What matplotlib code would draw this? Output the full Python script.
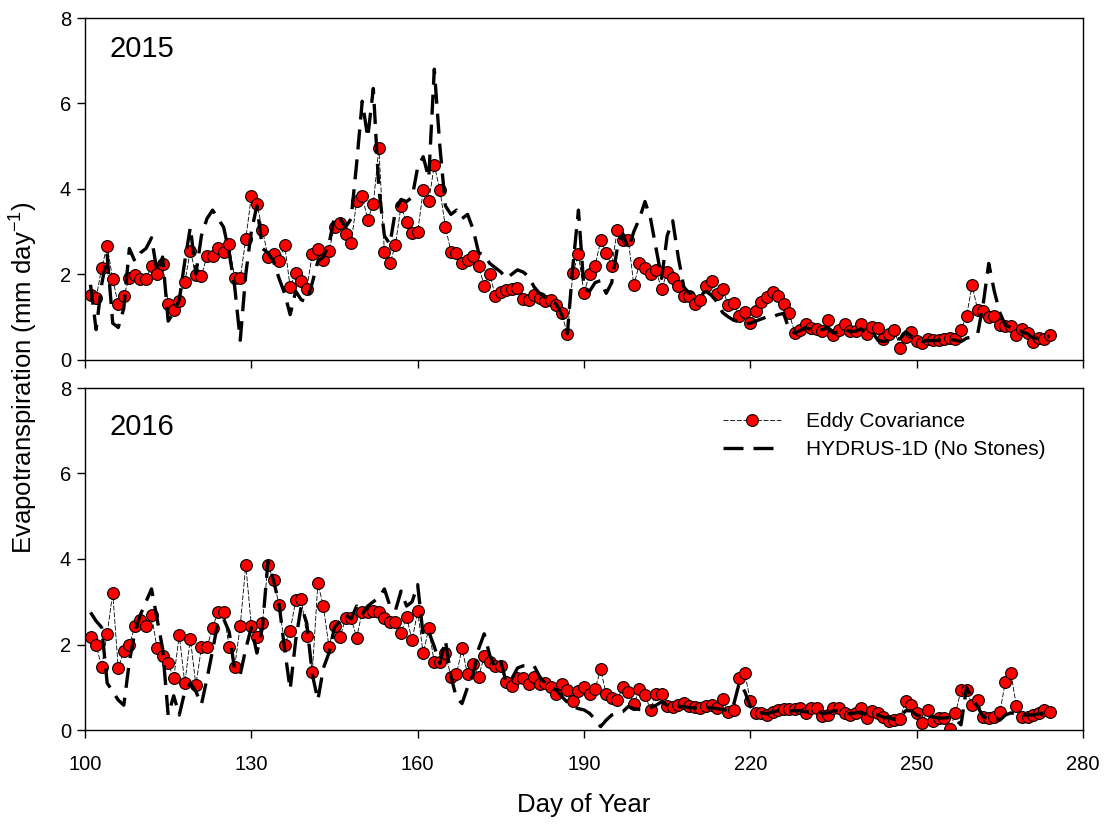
import numpy as np
import matplotlib
matplotlib.use("Agg")
import matplotlib.pyplot as plt

plt.rcParams['font.family'] = ['Liberation Sans', 'DejaVu Sans']
plt.rcParams['mathtext.fontset'] = 'custom'
plt.rcParams['mathtext.rm'] = 'Liberation Sans'
plt.rcParams['mathtext.it'] = 'Liberation Sans:italic'
plt.rcParams['mathtext.bf'] = 'Liberation Sans:bold'

first_day = 101
ec_2015 = [1.50, 1.43, 2.15, 2.66, 1.88, 1.29, 1.49, 1.92, 1.99, 1.88,
           1.88, 2.19, 2.00, 2.23, 1.31, 1.17, 1.38, 1.81, 2.55, 1.99,
           1.96, 2.43, 2.43, 2.62, 2.51, 2.70, 1.90, 1.91, 2.82, 3.83,
           3.65, 3.04, 2.41, 2.47, 2.31, 2.69, 1.70, 2.03, 1.84, 1.66,
           2.47, 2.60, 2.33, 2.55, 3.10, 3.20, 2.94, 2.72, 3.71, 3.83,
           3.27, 3.65, 4.95, 2.51, 2.25, 2.69, 3.60, 3.21, 2.97, 2.98,
           3.96, 3.71, 4.55, 3.98, 3.11, 2.53, 2.50, 2.27, 2.33, 2.42,
           2.19, 1.73, 2.00, 1.49, 1.58, 1.63, 1.66, 1.68, 1.41, 1.39,
           1.51, 1.43, 1.38, 1.39, 1.27, 1.08, 0.59, 2.03, 2.46, 1.55,
           2.00, 2.19, 2.79, 2.50, 2.19, 3.03, 2.81, 2.79, 1.74, 2.25,
           2.15, 2.01, 2.09, 1.64, 2.05, 1.92, 1.72, 1.49, 1.49, 1.31,
           1.39, 1.73, 1.84, 1.53, 1.65, 1.28, 1.33, 1.03, 1.11, 0.86,
           1.13, 1.35, 1.47, 1.57, 1.49, 1.29, 1.09, 0.63, 0.69, 0.83,
           0.73, 0.71, 0.67, 0.92, 0.57, 0.69, 0.82, 0.67, 0.67, 0.84,
           0.59, 0.77, 0.74, 0.47, 0.59, 0.69, 0.26, 0.53, 0.65, 0.44,
           0.38, 0.48, 0.46, 0.46, 0.47, 0.51, 0.47, 0.69, 1.02, 1.74,
           1.16, 1.13, 1.00, 1.03, 0.81, 0.78, 0.78, 0.57, 0.71, 0.61,
           0.42, 0.50, 0.47, 0.57]
hydrus_2015 = [1.75, 0.70, 1.75, 2.45, 0.85, 0.75, 1.20, 2.60, 2.30, 2.50,
               2.60, 2.85, 2.05, 2.40, 0.90, 1.10, 1.40, 2.30, 3.10, 2.00,
               2.90, 3.30, 3.50, 3.30, 3.10, 2.50, 1.70, 0.45, 2.00, 3.00,
               3.60, 2.60, 2.50, 2.30, 1.90, 1.55, 1.05, 1.60, 1.40, 1.35,
               1.80, 2.30, 2.40, 2.70, 3.35, 3.30, 3.10, 3.30, 4.60, 6.05,
               5.20, 6.35, 4.00, 2.90, 2.70, 3.50, 3.75, 3.70, 3.80, 4.50,
               4.75, 4.25, 6.80, 5.00, 3.60, 3.40, 3.50, 3.30, 3.40, 3.05,
               2.50, 2.45, 2.25, 2.15, 2.05, 1.90, 2.00, 2.10, 2.05, 1.95,
               1.70, 1.55, 1.45, 1.40, 1.30, 1.05, 0.60, 2.20, 3.50, 1.65,
               1.60, 1.80, 1.85, 1.55, 1.80, 2.60, 2.95, 2.60, 3.00, 3.30,
               3.70, 3.30, 2.60, 1.90, 2.90, 3.25, 2.40, 1.70, 1.55, 1.58,
               1.50, 1.60, 1.50, 1.35, 1.10, 1.00, 0.92, 0.88, 0.82, 0.85,
               0.90, 0.95, 1.00, 1.00, 1.05, 1.08, 0.70, 0.62, 0.68, 0.75,
               0.70, 0.68, 0.70, 0.75, 0.62, 0.65, 0.72, 0.65, 0.66, 0.72,
               0.60, 0.65, 0.45, 0.42, 0.45, 0.50, 0.48, 0.65, 0.55, 0.45,
               0.42, 0.45, 0.44, 0.45, 0.46, 0.48, 0.45, 0.42, 0.50, 0.53,
               0.60, 1.30, 2.25, 1.60, 1.10, 0.80, 0.75, 0.70, 0.65, 0.60,
               0.50, 0.50, 0.50, 0.55]
ec_2016 = [2.18, 1.99, 1.48, 2.25, 3.21, 1.44, 1.85, 1.99, 2.43, 2.57,
           2.44, 2.69, 1.91, 1.74, 1.56, 1.21, 2.22, 1.09, 2.14, 1.05,
           1.93, 1.93, 2.39, 2.77, 2.77, 1.95, 1.48, 2.44, 3.86, 2.44,
           2.17, 2.50, 3.86, 3.51, 2.92, 2.00, 2.32, 3.03, 3.06, 2.21,
           1.36, 3.43, 2.89, 1.95, 2.44, 2.17, 2.61, 2.61, 2.16, 2.77,
           2.77, 2.78, 2.77, 2.61, 2.52, 2.53, 2.28, 2.64, 2.10, 2.78,
           1.79, 2.38, 1.58, 1.58, 1.79, 1.25, 1.30, 1.91, 1.30, 1.54,
           1.25, 1.72, 1.60, 1.50, 1.50, 1.13, 1.03, 1.22, 1.22, 1.08,
           1.25, 1.07, 1.11, 1.00, 0.84, 1.07, 0.94, 0.69, 0.92, 1.01,
           0.84, 0.96, 1.42, 0.84, 0.74, 0.70, 1.01, 0.90, 0.61, 0.96,
           0.83, 0.47, 0.84, 0.84, 0.55, 0.53, 0.58, 0.64, 0.56, 0.53,
           0.51, 0.56, 0.58, 0.51, 0.72, 0.41, 0.47, 1.22, 1.34, 0.68,
           0.39, 0.39, 0.35, 0.43, 0.47, 0.48, 0.48, 0.48, 0.52, 0.39,
           0.51, 0.51, 0.33, 0.35, 0.52, 0.52, 0.39, 0.35, 0.39, 0.51,
           0.27, 0.44, 0.39, 0.31, 0.22, 0.23, 0.25, 0.69, 0.58, 0.39,
           0.17, 0.47, 0.22, 0.27, 0.27, 0.03, 0.39, 0.94, 0.94, 0.58,
           0.70, 0.31, 0.27, 0.31, 0.41, 1.13, 1.33, 0.55, 0.31, 0.31,
           0.34, 0.39, 0.47, 0.41]
hydrus_2016 = [2.75, 2.55, 2.40, 1.10, 0.90, 0.70, 0.58, 1.60, 2.30, 2.70,
               3.00, 3.30, 2.60, 1.90, 0.35, 0.80, 0.35, 0.90, 1.10, 0.90,
               0.60, 1.20, 1.85, 2.55, 2.60, 2.30, 1.40, 1.30, 1.90, 2.40,
               1.80, 2.40, 3.95, 3.50, 2.95, 1.90, 0.95, 2.10, 2.90, 2.50,
               1.30, 0.70, 1.45, 1.80, 2.40, 2.55, 2.70, 2.60, 2.90, 2.70,
               2.90, 3.00, 3.10, 3.30, 2.90, 2.80, 3.25, 2.90, 3.00, 3.40,
               2.20, 2.30, 1.95, 1.55, 2.10, 1.25, 0.75, 0.62, 1.00, 1.30,
               1.90, 2.25, 1.75, 1.45, 1.60, 1.10, 1.20, 1.45, 1.50, 1.50,
               1.50, 1.25, 1.10, 1.00, 0.94, 0.78, 0.65, 0.55, 0.50, 0.47,
               0.39, 0.25, 0.08, 0.23, 0.35, 0.40, 0.43, 0.55, 0.50, 0.48,
               0.47, 0.52, 0.58, 0.66, 0.58, 0.55, 0.55, 0.55, 0.52, 0.52,
               0.50, 0.52, 0.52, 0.50, 0.48, 0.45, 0.60, 1.10, 0.90, 0.55,
               0.42, 0.40, 0.38, 0.42, 0.45, 0.45, 0.45, 0.45, 0.45, 0.42,
               0.45, 0.45, 0.38, 0.40, 0.45, 0.45, 0.40, 0.38, 0.40, 0.42,
               0.35, 0.38, 0.35, 0.30, 0.28, 0.25, 0.30, 0.45, 0.45, 0.35,
               0.30, 0.35, 0.30, 0.28, 0.28, 0.30, 0.25, 0.12, 1.00, 0.75,
               0.55, 0.30, 0.28, 0.25, 0.23, 0.35, 0.40, 0.38, 0.35, 0.35,
               0.35, 0.38, 0.40, 0.40]

years = ["2015", "2016"]
x_ticks = [100, 130, 160, 190, 220, 250, 280]
y_ticks = [0, 2, 4, 6, 8]

W, H = 1105, 824
fig = plt.figure(figsize=(W / 100, H / 100), dpi=100)
left, right = 85, 1083
panels = [(18, 359.5), (388, 730)]
axes = []
for top, bot in panels:
    ax = fig.add_axes([left / W, 1 - bot / H, (right - left) / W, (bot - top) / H])
    axes.append(ax)

data = [(ec_2015, hydrus_2015), (ec_2016, hydrus_2016)]
for i, (ax, (ec, hy)) in enumerate(zip(axes, data)):
    d_ec = np.arange(first_day, first_day + len(ec))
    d_hy = np.arange(first_day, first_day + len(hy))
    l1, = ax.plot(d_ec, ec, color='black', lw=0.6, ls=(0, (6, 2)),
                  marker='o', ms=8.5, mfc='#ff0000', mec='black', mew=0.8,
                  label='Eddy Covariance', zorder=2)
    l2, = ax.plot(d_hy, hy, color='black', lw=2.4, ls=(0, (6, 3)),
                  label='HYDRUS-1D (No Stones)', zorder=3)
    ax.set_xlim(100, 280)
    ax.set_ylim(0, 8)
    ax.set_xticks(x_ticks)
    ax.set_yticks(y_ticks)
    ax.tick_params(direction='out', length=6, width=1, labelsize=14.5, pad=4)
    for s in ax.spines.values():
        s.set_linewidth(1.0)
    ax.text(0.025, 0.91 if i == 0 else 0.885, years[i], transform=ax.transAxes,
            fontsize=21, ha='left', va='center')
    if i == 0:
        ax.tick_params(labelbottom=False)
    else:
        ax.tick_params(axis='x', pad=12)
        ax.legend(handles=[l1, l2], loc='upper left', bbox_to_anchor=(0.62, 0.985),
                  frameon=False, fontsize=15, handlelength=2.8, labelspacing=0.45,
                  handletextpad=1.2)

fig.text((left + right) / 2 / W, 1 - 805 / H, 'Day of Year', ha='center', va='center',
         fontsize=18.5)
fig.text(0.022, 1 - 378 / H, 'Evapotranspiration (mm day$^{\\mathregular{-1}}$)',
         ha='center', va='center', rotation=90, fontsize=18.5)

fig.savefig('out.png', dpi=100)
